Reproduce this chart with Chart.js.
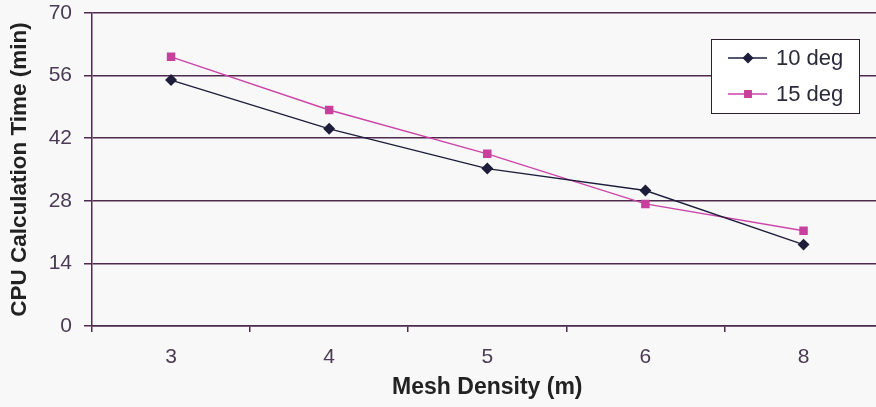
<!DOCTYPE html>
<html>
<head>
<meta charset="utf-8">
<script src="https://cdn.jsdelivr.net/npm/chart.js@4.4.1/dist/chart.umd.min.js"></script>
<style>
  html, body { margin: 0; padding: 0; background: #f8f8f8; overflow: hidden; width: 876px; height: 407px; }
  #wrap { position: relative; width: 889px; height: 407px; }
</style>
</head>
<body>
<div id="wrap"><canvas id="c"></canvas></div>
<script>
const categories = ['3', '4', '5', '6', '8'];
const series10 = [55.0, 44.1, 35.2, 30.3, 18.2];
const series15 = [60.2, 48.3, 38.5, 27.3, 21.3];
const yTicks = [0, 14, 28, 42, 56, 70];

const FONT = '"Liberation Sans", Arial, sans-serif';
const GRID = '#4e2a4e';
const TICKTXT = '#4a3a55';

const legendBox = {
  id: 'legendBox',
  afterDraw(chart) {
    const ctx = chart.ctx;
    const x0 = 711, y0 = 39, w = 148, h = 74;
    ctx.save();
    ctx.fillStyle = '#ffffff';
    ctx.fillRect(x0, y0, w, h);
    ctx.strokeStyle = '#2a2030';
    ctx.lineWidth = 1;
    ctx.strokeRect(x0 + 0.5, y0 + 0.5, w, h);
    const rows = [58, 94];
    chart.data.datasets.forEach((ds, i) => {
      const y = rows[i];
      ctx.strokeStyle = ds.borderColor;
      ctx.lineWidth = 1.5;
      ctx.beginPath();
      ctx.moveTo(728, y);
      ctx.lineTo(767, y);
      ctx.stroke();
      ctx.fillStyle = ds.pointBackgroundColor;
      ctx.strokeStyle = ds.pointBorderColor;
      Chart.helpers.drawPoint(ctx, { pointStyle: ds.pointStyle, radius: ds.pointRadius - 0.5, borderWidth: 1 }, 748, y);
      ctx.fillStyle = '#2a2a3a';
      ctx.font = '22px ' + FONT;
      ctx.textBaseline = 'middle';
      ctx.textAlign = 'left';
      ctx.fillText(ds.label, 776, y + 1);
    });
    ctx.restore();
  }
};

new Chart(document.getElementById('c'), {
  type: 'line',
  data: {
    labels: categories,
    datasets: [
      {
        label: '10 deg',
        data: series10,
        borderColor: '#1e1e3c',
        backgroundColor: '#1e1e3c',
        pointBackgroundColor: '#1e1e3c',
        pointBorderColor: '#1e1e3c',
        pointStyle: 'rectRot',
        pointRadius: 5,
        borderWidth: 1.4,
        tension: 0
      },
      {
        label: '15 deg',
        data: series15,
        borderColor: '#cc44aa',
        backgroundColor: '#c8409c',
        pointBackgroundColor: '#c8409c',
        pointBorderColor: '#c8409c',
        pointStyle: 'rect',
        pointRadius: 5,
        borderWidth: 1.4,
        tension: 0
      }
    ]
  },
  options: {
    responsive: true,
    maintainAspectRatio: false,
    animation: false,
    layout: { padding: { top: 13, right: 2, left: 0, bottom: 0 } },
    plugins: { legend: { display: false }, tooltip: { enabled: false } },
    scales: {
      x: {
        offset: true,
        grid: { display: true, drawOnChartArea: false, drawTicks: true, tickLength: 6, offset: true, color: GRID, lineWidth: 1.5 },
        border: { display: true, color: GRID, width: 1.5 },
        ticks: { color: TICKTXT, font: { family: FONT, size: 21 }, padding: 13 },
        title: { display: true, text: 'Mesh Density (m)', color: '#222', font: { family: FONT, size: 23, weight: 'bold' }, padding: { top: 4, bottom: 6 } },
        afterFit(scale) { scale.height = 81; scale.paddingLeft = 0; scale.paddingRight = 0; }
      },
      y: {
        min: 0, max: 70,
        afterBuildTicks(scale) { scale.ticks = yTicks.map(v => ({ value: v })); },
        grid: { color: GRID, lineWidth: 1.5, drawTicks: true, tickLength: 8 },
        border: { display: true, color: GRID, width: 1.5 },
        ticks: { color: TICKTXT, font: { family: FONT, size: 21 }, padding: 12 },
        title: { display: true, text: 'CPU Calculation Time (min)', color: '#222', font: { family: FONT, size: 22.5, weight: 'bold' }, padding: { top: 6, bottom: 4 } },
        afterFit(scale) { scale.width = 92; scale.paddingTop = 0; scale.paddingBottom = 0; }
      }
    }
  },
  plugins: [legendBox]
});
</script>
</body>
</html>
